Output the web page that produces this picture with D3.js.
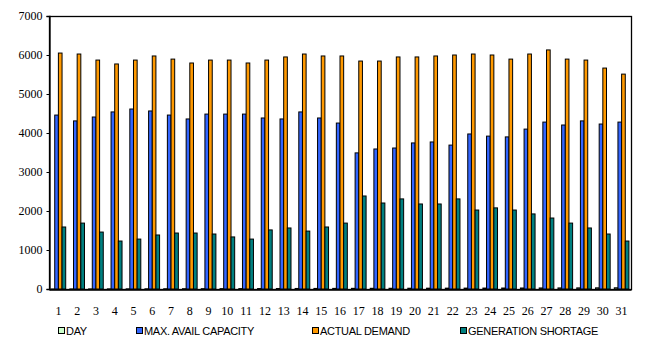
<!DOCTYPE html>
<html><head><meta charset="utf-8">
<script src="https://cdn.jsdelivr.net/npm/d3@7"></script>
<style>html,body{margin:0;padding:0;background:#fff;}svg{display:block;}</style>
</head><body><svg id="c" width="657" height="356"></svg>
<script>
const days = ["1","2","3","4","5","6","7","8","9","10","11","12","13","14","15","16","17","18","19","20","21","22","23","24","25","26","27","28","29","30","31"];
const dayValues = [1,2,3,4,5,6,7,8,9,10,11,12,13,14,15,16,17,18,19,20,21,22,23,24,25,26,27,28,29,30,31];
const maxAvailCapacity = [4460,4310,4410,4540,4615,4565,4460,4360,4485,4485,4485,4385,4360,4540,4385,4255,3490,3590,3615,3745,3770,3690,3975,3920,3900,4100,4280,4205,4310,4230,4280];
const actualDemand = [6050,6025,5870,5770,5870,5975,5895,5795,5870,5870,5795,5870,5950,6025,5975,5975,5845,5845,5950,5950,5975,6000,6025,6000,5895,6025,6130,5895,5870,5665,5510];
const generationShortage = [1590,1690,1460,1230,1280,1385,1435,1435,1410,1335,1280,1515,1565,1485,1590,1690,2385,2205,2310,2180,2180,2310,2025,2080,2025,1925,1820,1690,1565,1410,1230];
const seriesNames = ["DAY","MAX. AVAIL CAPACITY","ACTUAL DEMAND","GENERATION SHORTAGE"];
const seriesColors = ["#CCFFCC","#3366FF","#FF9900","#008080"];
const yTicks = [0,1000,2000,3000,4000,5000,6000,7000];

const svg = d3.select("#c");
const L = 49, R = 631, T = 16, B = 289;
const series = [dayValues, maxAvailCapacity, actualDemand, generationShortage];

const x0 = d3.scaleBand().domain(days).range([L, R]).paddingInner(0.22).paddingOuter(0.11);
const x1 = d3.scaleBand().domain(d3.range(4)).range([0, x0.bandwidth()]);
const y = d3.scaleLinear().domain([0, 7000]).range([B, T]);

// frame
svg.append("rect").attr("x", L + 0.5).attr("y", T + 0.5).attr("width", R - L).attr("height", B - T)
  .attr("fill", "none").attr("stroke", "#000").attr("stroke-width", 1.3);

// bars
const g = svg.append("g");
days.forEach((d, i) => {
  series.forEach((s, k) => {
    const v = s[i];
    const yy = y(v);
    g.append("rect")
      .attr("x", x0(d) + x1(k))
      .attr("y", yy)
      .attr("width", x1.bandwidth())
      .attr("height", Math.max(0, B - yy))
      .attr("fill", seriesColors[k])
      .attr("stroke", "#000")
      .attr("stroke-width", 1);
  });
});

// y axis
const ya = svg.append("g").attr("transform", `translate(${L + 0.5},0)`)
  .call(d3.axisLeft(y).tickValues(yTicks).tickSize(3).tickPadding(4).tickFormat(d3.format("d")));
ya.select(".domain").attr("stroke", "#000").attr("stroke-width", 1.3);
ya.selectAll("text").attr("font-family", "Liberation Serif, Times New Roman, serif").attr("font-size", 12).attr("fill", "#000");

// x axis
const xa = svg.append("g").attr("transform", `translate(0,${B + 0.5})`)
  .call(d3.axisBottom(x0).tickSize(0).tickPadding(17));
xa.select(".domain").attr("stroke", "#000").attr("stroke-width", 1.3);
xa.selectAll("text").attr("font-family", "Liberation Serif, Times New Roman, serif").attr("font-size", 12).attr("fill", "#000");

// legend
const legX = [58, 136, 312, 460];
const lg = svg.append("g");
seriesNames.forEach((n, k) => {
  lg.append("rect").attr("x", legX[k] + 0.5).attr("y", 327.5).attr("width", 6).attr("height", 6)
    .attr("fill", seriesColors[k]).attr("stroke", "#000").attr("stroke-width", 1);
  lg.append("text").attr("x", legX[k] + 8).attr("y", 335).text(n)
    .attr("font-family", "Liberation Sans, Arial, sans-serif").attr("font-size", 11)
    .attr("letter-spacing", -0.3).attr("fill", "#000");
});
</script></body></html>
